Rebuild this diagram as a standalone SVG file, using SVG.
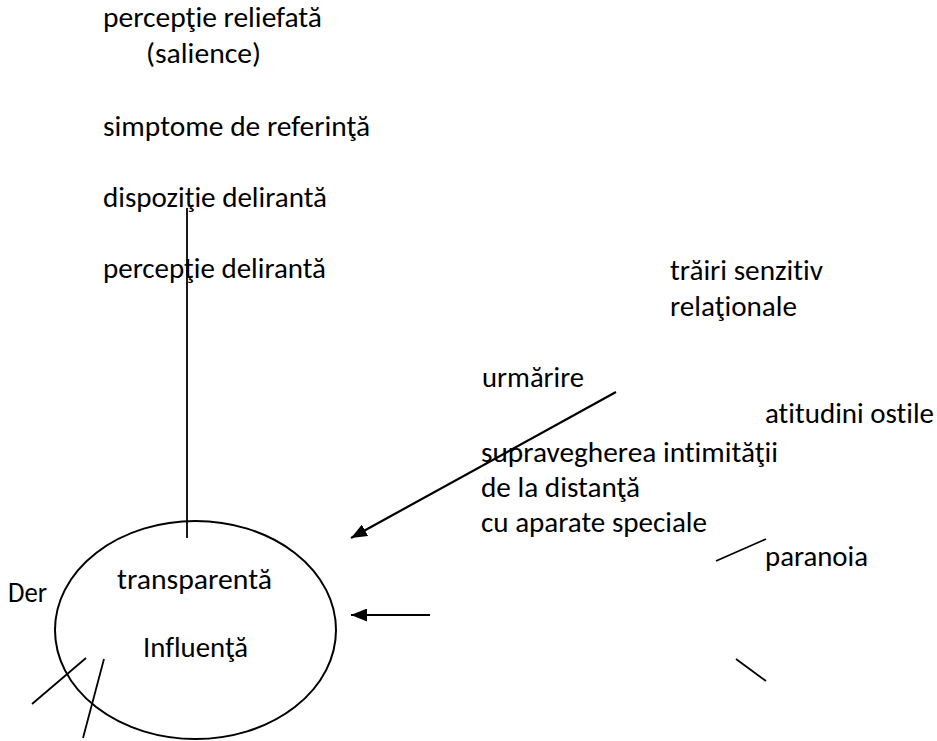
<svg xmlns="http://www.w3.org/2000/svg" width="937" height="741" viewBox="0 0 937 741">
<style>
  text { font-family: Carlito, Lato, "Liberation Sans", sans-serif; font-size: 28px; fill: #000; font-variant-ligatures: none; }
  .ln { stroke: #000; stroke-width: 1.8; fill: none; }
  .ar { stroke: #000; stroke-width: 2.2; fill: none; marker-end: url(#ah); }
  .el { stroke: #000; stroke-width: 2; fill: none; }
</style>
<defs>
  <marker id="ah" markerUnits="userSpaceOnUse" markerWidth="17" markerHeight="13" refX="16" refY="6.5" orient="auto">
    <path d="M0,0 L16,6.5 L0,13 z" fill="#000"/>
  </marker>
</defs>
<rect width="937" height="741" fill="#fff"/>

<g id="node-perceptie-reliefata">
  <text x="103" y="27" textLength="219" lengthAdjust="spacingAndGlyphs">percepţie reliefată</text>
  <text x="146" y="63" textLength="115" lengthAdjust="spacingAndGlyphs">(salience)</text>
</g>
<g id="node-simptome">
  <text x="103" y="136" textLength="267" lengthAdjust="spacingAndGlyphs">simptome de referinţă</text>
</g>
<g id="node-dispozitie">
  <text x="103" y="207" textLength="224" lengthAdjust="spacingAndGlyphs">dispoziţie delirantă</text>
</g>
<g id="node-perceptie-deliranta">
  <text x="103" y="278" textLength="223" lengthAdjust="spacingAndGlyphs">percepţie delirantă</text>
</g>
<g id="node-trairi">
  <text x="670" y="280" textLength="153" lengthAdjust="spacingAndGlyphs">trăiri senzitiv</text>
  <text x="670" y="316" textLength="127" lengthAdjust="spacingAndGlyphs">relaţionale</text>
</g>
<g id="node-urmarire">
  <text x="482" y="387" textLength="102" lengthAdjust="spacingAndGlyphs">urmărire</text>
</g>
<g id="node-atitudini">
  <text x="765" y="423" textLength="169" lengthAdjust="spacingAndGlyphs">atitudini ostile</text>
</g>
<g id="node-supraveghere">
  <text x="481" y="462" textLength="297" lengthAdjust="spacingAndGlyphs">supravegherea intimităţii</text>
  <text x="481" y="497" textLength="159" lengthAdjust="spacingAndGlyphs">de la distanţă</text>
  <text x="481" y="532" textLength="226" lengthAdjust="spacingAndGlyphs">cu aparate speciale</text>
</g>
<g id="node-paranoia">
  <text x="765" y="566" textLength="103" lengthAdjust="spacingAndGlyphs">paranoia</text>
</g>
<g id="node-der">
  <text x="8" y="602" textLength="39" lengthAdjust="spacingAndGlyphs">Der</text>
</g>
<g id="node-influenta">
  <ellipse class="el" cx="195.5" cy="630" rx="140.5" ry="109"/>
  <text x="117" y="589" textLength="155" lengthAdjust="spacingAndGlyphs">transparentă</text>
  <text x="143" y="657" textLength="105" lengthAdjust="spacingAndGlyphs">Influenţă</text>
</g>

<g id="connectors">
  <line class="ln" x1="187" y1="208" x2="187" y2="538"/>
  <line class="ar" x1="616" y1="392" x2="351" y2="538"/>
  <line class="ar" x1="430" y1="615" x2="351" y2="615"/>
  <line class="ln" x1="716" y1="561" x2="766" y2="539"/>
  <line class="ln" x1="736" y1="659" x2="766" y2="681"/>
  <line class="ln" x1="32" y1="704" x2="86" y2="658"/>
  <line class="ln" x1="104" y1="659" x2="83" y2="738"/>
</g>
</svg>
